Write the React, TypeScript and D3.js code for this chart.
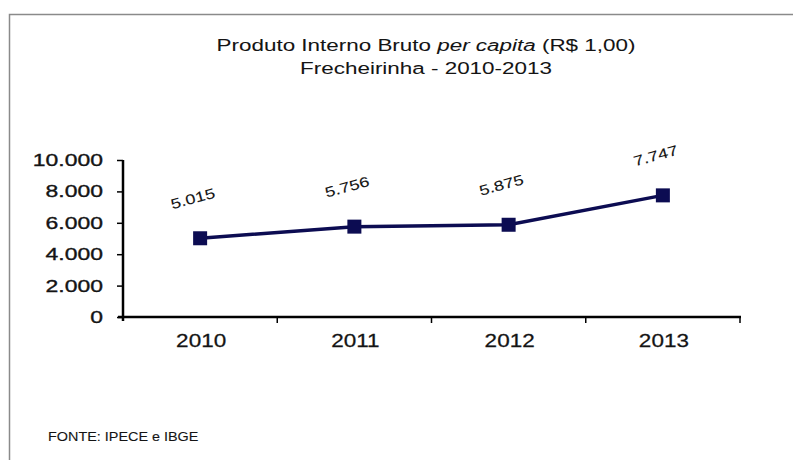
import { useEffect, useRef } from 'react';
import * as d3 from 'd3';

const years = ['2010', '2011', '2012', '2013'];
const pibPerCapita = [5015, 5756, 5875, 7747];
const yTicks = [0, 2000, 4000, 6000, 8000, 10000];

const WIDTH = 793;
const HEIGHT = 460;

const fmt = (v: number) => d3.format(',')(v).replace(/,/g, '.');

export default function App() {
  const svgRef = useRef<SVGSVGElement>(null);

  useEffect(() => {
    if (!svgRef.current) return;
    const svg = d3.select(svgRef.current);
    svg.selectAll('*').remove();

    const font = '"Liberation Sans", Arial, sans-serif';
    const navy = '#0c0c52';
    const ink = '#141414';

    // texto esticado na horizontal, como no original digitalizado
    const stretched = (
      parent: d3.Selection<any, unknown, null, undefined>,
      px: number, py: number, size: number, sx: number, anchor = 'start', weight = 0.35
    ) =>
      parent.append('text')
        .attr('transform', `translate(${px},${py}) scale(${sx},1)`)
        .attr('text-anchor', anchor)
        .attr('font-family', font)
        .attr('font-size', `${size}px`)
        .attr('fill', ink)
        .attr('stroke', ink)
        .attr('stroke-width', weight);

    svg.append('rect')
      .attr('width', WIDTH)
      .attr('height', HEIGHT)
      .attr('fill', '#ffffff');

    // moldura
    svg.append('path')
      .attr('d', `M9.5,${HEIGHT} V14.5 H${WIDTH}`)
      .attr('fill', 'none')
      .attr('stroke', '#8a8a8a')
      .attr('stroke-width', 1.5);

    // título
    const title = stretched(svg, 426, 51, 17, 1.32, 'middle', 0.05);
    title.append('tspan').text('Produto Interno Bruto ');
    title.append('tspan').attr('font-style', 'italic').text('per capita');
    title.append('tspan').text(' (R$ 1,00)');

    stretched(svg, 426, 74, 17, 1.32, 'middle', 0.05).text('Frecheirinha - 2010-2013');

    const x = d3.scaleBand<string>()
      .domain(years)
      .range([123, 740])
      .padding(0);

    const y = d3.scaleLinear()
      .domain([0, 10000])
      .range([317, 160]);

    // eixo Y
    const yAxis = svg.append('g')
      .attr('transform', 'translate(123,0)')
      .call(d3.axisLeft(y).tickValues(yTicks).tickSize(6).tickSizeOuter(0).tickFormat(() => ''));
    yAxis.select('.domain')
      .attr('stroke', '#000')
      .attr('stroke-width', 2.5)
      .attr('d', `M0,${y(10000)}V${y(0) + 4}`);
    yAxis.selectAll('.tick line').attr('stroke', '#000').attr('stroke-width', 1.5);
    yTicks.forEach(t => {
      stretched(svg, 103, y(t) + 6, 17, 1.35, 'end').text(fmt(t));
    });

    // eixo X
    const xAxis = svg.append('g')
      .attr('transform', `translate(0,${y(0)})`);
    xAxis.append('line')
      .attr('x1', 118)
      .attr('x2', 741)
      .attr('stroke', '#000')
      .attr('stroke-width', 2.5);
    const boundaries = years.slice(1).map(d => x(d) as number).concat([x.range()[1]]);
    xAxis.selectAll('line.tk')
      .data(boundaries)
      .join('line')
      .attr('class', 'tk')
      .attr('x1', d => d)
      .attr('x2', d => d)
      .attr('y1', 0)
      .attr('y2', 6)
      .attr('stroke', '#000')
      .attr('stroke-width', 1.5);
    years.forEach(d => {
      stretched(xAxis, (x(d) as number) + x.bandwidth() / 2 + 1, 30, 18, 1.25, 'middle', 0.25).text(d);
    });

    const pts = years.map((d, i) => ({ year: d, value: pibPerCapita[i] }));
    const cx = (d: { year: string }) => (x(d.year) as number) + x.bandwidth() / 2;

    const line = d3.line<typeof pts[0]>()
      .x(cx)
      .y(d => y(d.value));

    svg.append('path')
      .datum(pts)
      .attr('d', line)
      .attr('fill', 'none')
      .attr('stroke', navy)
      .attr('stroke-width', 3.5);

    svg.selectAll('rect.marker')
      .data(pts)
      .join('rect')
      .attr('class', 'marker')
      .attr('x', d => cx(d) - 7)
      .attr('y', d => y(d.value) - 7)
      .attr('width', 14)
      .attr('height', 14)
      .attr('fill', navy);

    pts.forEach(d => {
      svg.append('text')
        .attr('transform', `translate(${cx(d) - 6},${y(d.value) - 35}) rotate(-15) scale(1.3,1)`)
        .attr('text-anchor', 'middle')
        .attr('font-family', font)
        .attr('font-size', '14px')
        .attr('fill', ink)
        .attr('stroke', ink)
        .attr('stroke-width', 0.1)
        .text(fmt(d.value));
    });

    stretched(svg, 48, 441, 12, 1.2, 'start', 0.1).text('FONTE: IPECE e IBGE');
  }, []);

  return (
    <svg
      ref={svgRef}
      width={WIDTH}
      height={HEIGHT}
      style={{ position: 'absolute', left: 0, top: 0, display: 'block' }}
    />
  );
}
